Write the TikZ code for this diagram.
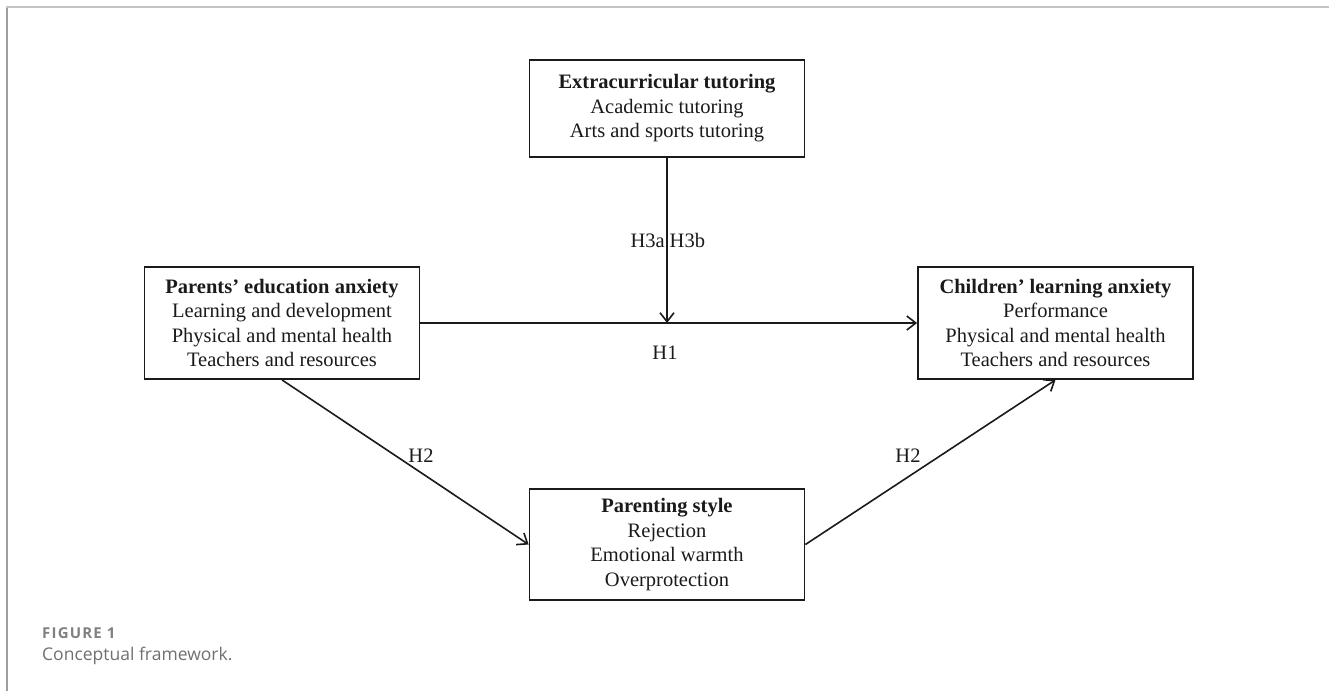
\documentclass[tikz,border=0pt]{standalone}
\usepackage{fontspec}
\setmainfont{Liberation Serif}
\newfontfamily\capfont{Open Sans}
\newfontfamily\figfont[LetterSpace=8]{Open Sans}
\usetikzlibrary{arrows.meta}
\definecolor{ink}{HTML}{1A1A1A}
\definecolor{frametop}{HTML}{C4C4C4}
\definecolor{frameleft}{HTML}{9E9E9E}
\definecolor{capgrey}{HTML}{808080}
\definecolor{capgreytxt}{HTML}{707070}
\begin{document}
\begin{tikzpicture}[x=1pt,y=-1pt,
  box/.style={draw=ink, line width=1.8pt, minimum width=275pt, minimum height=112pt,
    inner sep=0pt, align=center, font=\fontsize{20.5}{24.5}\selectfont, text=ink},
  arr/.style={draw=ink, line width=1.6pt,
    -{Straight Barb[length=9pt,width=14pt,line width=1.6pt]}},
  lab/.style={font=\fontsize{20.5}{24.5}\selectfont, inner sep=0pt, text=ink}]
\useasboundingbox (0,0) rectangle (1329,691);
% outer frame
\draw[frameleft, line width=2pt] (7,691) -- (7,7);
\draw[frametop, line width=2pt] (6,7) -- (1329,7);
% boxes
\node[box, minimum height=97pt] (ext) at (667,108.5)
  {\textbf{Extracurricular tutoring}\\Academic tutoring\\Arts and sports tutoring};
\node[box] (par) at (282,323)
  {\textbf{Parents’ education anxiety}\\Learning and development\\Physical and mental health\\Teachers and resources};
\node[box] (chi) at (1055.5,323)
  {\textbf{Children’ learning anxiety}\\Performance\\Physical and mental health\\Teachers and resources};
\node[box, minimum height=111pt] (sty) at (667,544.5)
  {\textbf{Parenting style}\\Rejection\\Emotional warmth\\Overprotection};
% connectors
\coordinate (m) at (ext.south |- par.east);
\draw[arr] (ext.south) -- (m);
\draw[arr] (par.east) -- (chi.west);
\draw[arr] (par.south) -- (sty.west);
\draw[arr] (sty.east) -- (chi.south);
% labels
\node[lab, anchor=base east] (h3a) at (665,247) {H3a};
\node[lab, anchor=base west] (h3b) at (669.5,247) {H3b};
\node[lab, anchor=base] (h1) at (665,359) {H1};
\node[lab, anchor=base] (h2a) at (421,462) {H2};
\node[lab, anchor=base] (h2b) at (908,462) {H2};
% caption
\node[anchor=base west, inner sep=0pt, text=capgrey, font=\figfont\bfseries\fontsize{15}{17}\selectfont] (fig) at (42,638) {FIGURE 1};
\node[anchor=base west, inner sep=0pt, text=capgreytxt, font=\capfont\fontsize{17.5}{20}\selectfont] (cap) at (42,660) {Conceptual framework.};
\end{tikzpicture}
\end{document}
